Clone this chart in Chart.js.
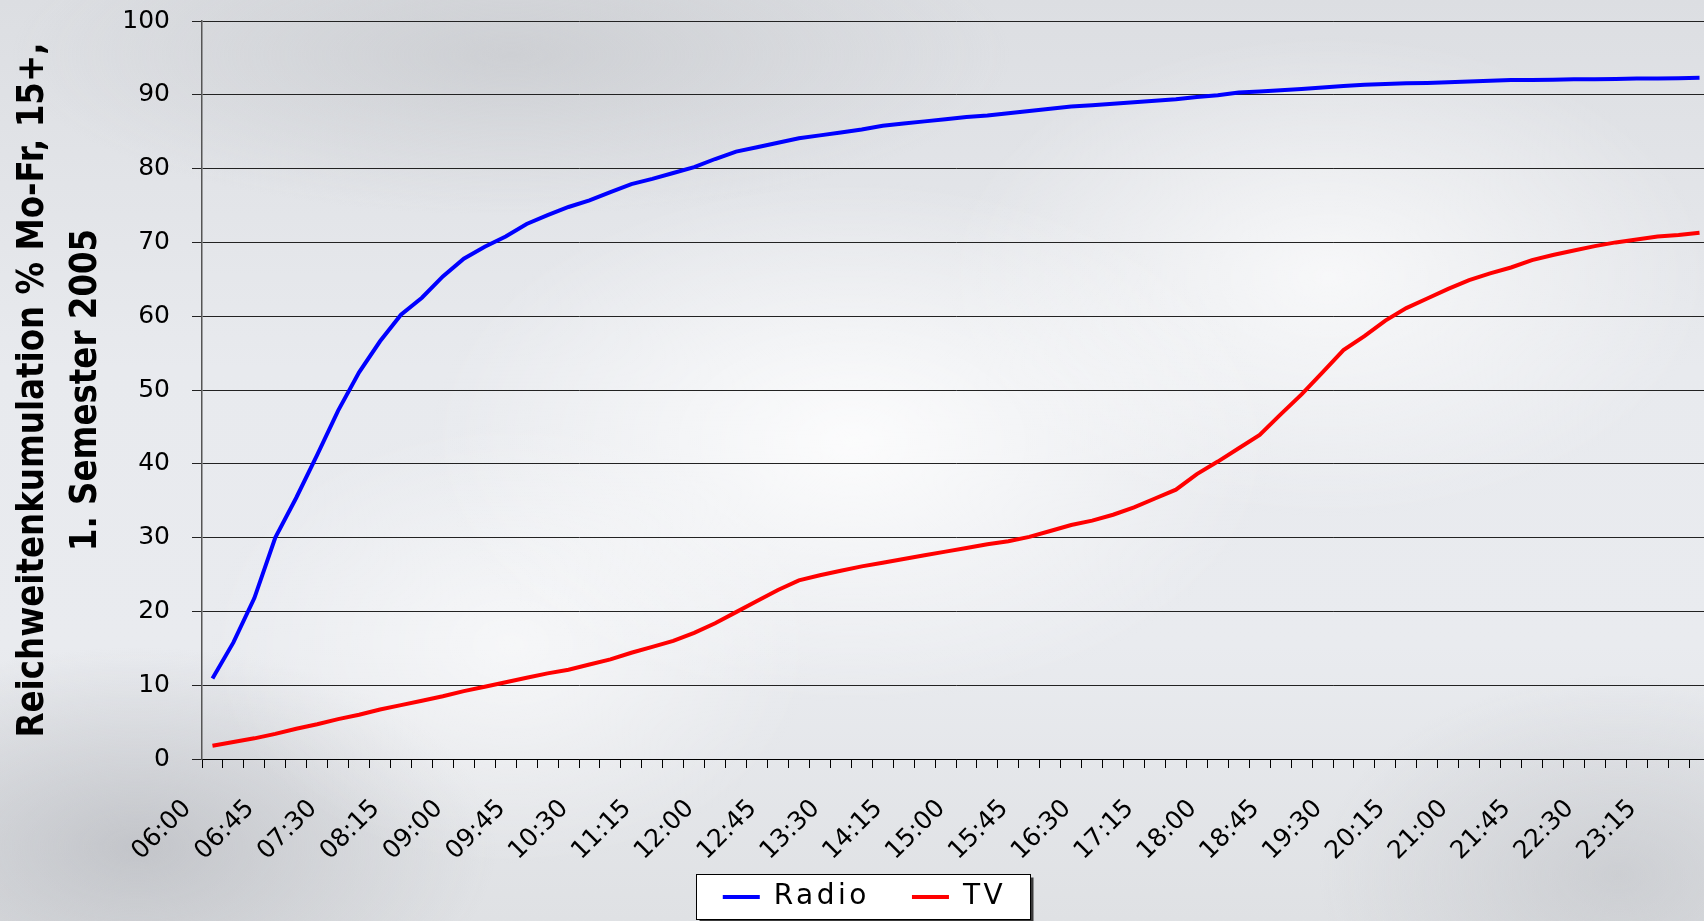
<!DOCTYPE html>
<html>
<head>
<meta charset="utf-8">
<script src="https://cdn.jsdelivr.net/npm/chart.js@4.4.1/dist/chart.umd.min.js"></script>
<style>
html, body { margin: 0; padding: 0; width: 1704px; height: 921px; overflow: hidden; }
body {
  background:
    radial-gradient(ellipse 420px 260px at 50% 48%, rgba(255,255,255,0.85), rgba(255,255,255,0) 100%),
    radial-gradient(ellipse 380px 240px at 78% 30%, rgba(255,255,255,0.7), rgba(255,255,255,0) 100%),
    radial-gradient(ellipse 300px 220px at 30% 70%, rgba(255,255,255,0.6), rgba(255,255,255,0) 100%),
    radial-gradient(ellipse 360px 200px at 8% 92%, rgba(170,172,178,0.55), rgba(170,172,178,0) 100%),
    radial-gradient(ellipse 500px 160px at 30% 6%, rgba(190,192,196,0.5), rgba(190,192,196,0) 100%),
    radial-gradient(ellipse 300px 200px at 95% 95%, rgba(185,187,192,0.5), rgba(185,187,192,0) 100%),
    linear-gradient(180deg, #dcdee2 0%, #e8eaee 40%, #e9ebef 70%, #dfe1e4 100%);
}
#wrap { position: absolute; left: 0; top: 0; width: 1712px; height: 921px; }
</style>
</head>
<body>
<div id="wrap"><canvas id="c" width="1712" height="921"></canvas></div>
<script>
// 15-minute categories
const times = [
  '06:00','06:15','06:30','06:45','07:00','07:15','07:30','07:45',
  '08:00','08:15','08:30','08:45','09:00','09:15','09:30','09:45',
  '10:00','10:15','10:30','10:45','11:00','11:15','11:30','11:45',
  '12:00','12:15','12:30','12:45','13:00','13:15','13:30','13:45',
  '14:00','14:15','14:30','14:45','15:00','15:15','15:30','15:45',
  '16:00','16:15','16:30','16:45','17:00','17:15','17:30','17:45',
  '18:00','18:15','18:30','18:45','19:00','19:15','19:30','19:45',
  '20:00','20:15','20:30','20:45','21:00','21:15','21:30','21:45',
  '22:00','22:15','22:30','22:45','23:00','23:15','23:30','23:45'
];

const radio = [
  10.9, 15.8, 21.8, 30.0, 35.4, 41.2, 47.2, 52.4,
  56.6, 60.2, 62.5, 65.4, 67.8, 69.4, 70.8, 72.5,
  73.7, 74.8, 75.7, 76.8, 77.9, 78.6, 79.4, 80.2,
  81.3, 82.3, 82.9, 83.5, 84.1, 84.5, 84.9, 85.3,
  85.8, 86.1, 86.4, 86.7, 87.0, 87.2, 87.5, 87.8,
  88.1, 88.4, 88.6, 88.8, 89.0, 89.2, 89.4, 89.7,
  89.95, 90.3, 90.45, 90.6, 90.8, 91.0, 91.2, 91.35,
  91.45, 91.55, 91.6, 91.7, 91.8, 91.9, 92.0, 92.0,
  92.05, 92.1, 92.1, 92.15, 92.2, 92.2, 92.25, 92.3
];

const tv = [
  1.8, 2.3, 2.8, 3.4, 4.1, 4.7, 5.4, 6.0,
  6.7, 7.3, 7.9, 8.5, 9.2, 9.8, 10.4, 11.0,
  11.6, 12.1, 12.8, 13.5, 14.4, 15.2, 16.0, 17.1,
  18.4, 19.9, 21.4, 22.9, 24.2, 24.9, 25.5, 26.1,
  26.6, 27.1, 27.6, 28.1, 28.6, 29.1, 29.5, 30.1,
  30.9, 31.7, 32.3, 33.1, 34.1, 35.3, 36.5, 38.6,
  40.3, 42.1, 43.9, 46.7, 49.4, 52.4, 55.4, 57.3,
  59.4, 61.1, 62.4, 63.7, 64.9, 65.8, 66.6, 67.6,
  68.3, 68.9, 69.5, 70.0, 70.4, 70.8, 71.0, 71.3
];

const seriesNames = ['Radio', 'TV'];
const yTitle = ['Reichweitenkumulation % Mo-Fr, 15+,', '1. Semester 2005'];
const labelEvery = 3;

// Title: bold face, squeezed along its length to look condensed like the original
const TITLE_FONT = { family: "'DejaVu Sans', sans-serif", size: 38, weight: 'bold', lineHeight: '53px' };
const TITLE_LENGTH = 695;
const TITLE_SQUEEZE = (function() {
  const c = document.createElement('canvas').getContext('2d');
  c.font = 'bold ' + TITLE_FONT.size + 'px ' + TITLE_FONT.family;
  const w = c.measureText(yTitle[0]).width;
  return w > 0 ? Math.min(1, TITLE_LENGTH / w) : 1;
})();

const axisPatch = {
  id: 'axisPatch',
  beforeDraw(chart) {
    const x = chart.scales.x, y = chart.scales.y;
    if (x && !x._noClip) {
      x._noClip = true;
      x._computeLabelArea = function() { return undefined; };
    }
    if (y && !y._squeezed) {
      y._squeezed = true;
      const orig = y.drawTitle;
      y.drawTitle = function() {
        const ctx = this.ctx;
        const cy = (this.top + this.bottom) / 2;
        ctx.save();
        ctx.translate(0, cy);
        ctx.scale(1, TITLE_SQUEEZE);
        ctx.translate(0, -cy);
        orig.apply(this, arguments);
        ctx.restore();
      };
    }
  }
};

const LEGEND_SPACING = '3.5px';
const legendFrame = {
  id: 'legendFrame',
  beforeUpdate(chart) {
    const lg = chart.legend;
    if (!lg || lg._patched) return;
    lg._patched = true;
    const origFit = lg.fit, origDraw = lg.draw;
    lg.fit = function() {
      const c = this.ctx, prev = c.letterSpacing;
      c.letterSpacing = LEGEND_SPACING;
      origFit.call(this);
      c.letterSpacing = prev;
    };
    lg.draw = function() {
      const c = this.ctx;
      const hb = this.legendHitBoxes;
      if (hb && hb.length) {
        const first = hb[0], last = hb[hb.length - 1];
        const cy = first.top + first.height / 2;
        const x0 = Math.round(first.left - 27) + 0.5;
        const x1 = Math.round(last.left + last.width + 24) + 0.5;
        const y0 = Math.round(cy - 23) + 0.5;
        const y1 = Math.round(cy + 22) + 0.5;
        c.save();
        c.fillStyle = '#3a3a3a';
        c.fillRect(x0 + 3, y0 + 3, x1 - x0, y1 - y0);
        c.fillStyle = '#ffffff';
        c.fillRect(x0, y0, x1 - x0, y1 - y0);
        c.strokeStyle = '#000000';
        c.lineWidth = 1;
        c.strokeRect(x0, y0, x1 - x0, y1 - y0);
        c.restore();
      }
      const prev = c.letterSpacing;
      c.letterSpacing = LEGEND_SPACING;
      origDraw.apply(this, arguments);
      c.letterSpacing = prev;
    };
  }
};

const tickFont = { family: "'DejaVu Sans', sans-serif", size: 25 };

new Chart(document.getElementById('c'), {
  type: 'line',
  data: {
    labels: times,
    datasets: [
      { label: seriesNames[0], data: radio, borderColor: '#0000ff', backgroundColor: '#0000ff',
        borderWidth: 4, pointRadius: 0, tension: 0, fill: false },
      { label: seriesNames[1], data: tv, borderColor: '#ff0000', backgroundColor: '#ff0000',
        borderWidth: 4, pointRadius: 0, tension: 0, fill: false }
    ]
  },
  options: {
    responsive: false,
    animation: false,
    devicePixelRatio: 1,
    layout: { padding: { top: 21, left: 19, right: 2, bottom: 0 } },
    plugins: {
      tooltip: { enabled: false },
      legend: {
        position: 'bottom',
        align: 'center',
        labels: {
          usePointStyle: true,
          pointStyle: 'line',
          pointStyleWidth: 37,
          boxHeight: 28,
          padding: 42,
          color: '#000',
          font: { family: "'DejaVu Sans', sans-serif", size: 28 }
        }
      }
    },
    scales: {
      x: {
        type: 'category',
        offset: true,
        grid: { display: true, drawOnChartArea: false, drawTicks: true, tickLength: 9, color: '#000', offset: true },
        border: { display: true, color: '#000', width: 1 },
        ticks: {
          autoSkip: false,
          minRotation: 45,
          maxRotation: 45,
          labelOffset: -25,
          padding: 26,
          color: '#000',
          font: tickFont,
          callback: function(value, index) { return index % labelEvery === 0 ? times[index] : ''; }
        },
        afterFit: function(scale) {
          scale.height = 82;
          scale.paddingLeft = 0;
          scale.paddingRight = 0;
        }
      },
      y: {
        min: 0,
        max: 100,
        ticks: { stepSize: 10, padding: 22, color: '#000', font: tickFont },
        grid: { color: '#222', lineWidth: 1, drawTicks: true, tickLength: 10 },
        border: { display: true, color: '#555', width: 1.5 },
        title: {
          display: true,
          text: yTitle,
          color: '#000',
          padding: { top: -12.5, bottom: 0 },
          font: TITLE_FONT
        },
        afterFit: function(scale) {
          scale.width = 183;
          scale.paddingTop = 0;
          scale.paddingBottom = 0;
        }
      }
    }
  },
  plugins: [legendFrame, axisPatch]
});
</script>
</body>
</html>
